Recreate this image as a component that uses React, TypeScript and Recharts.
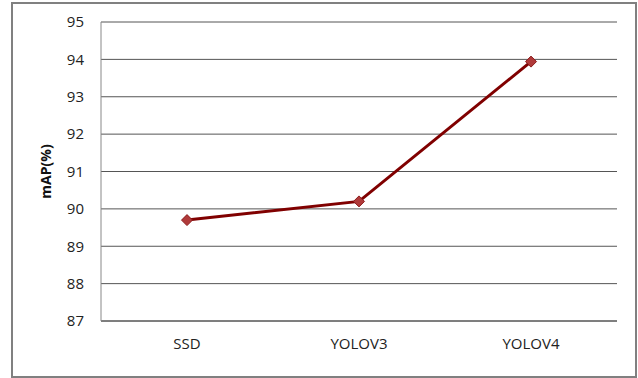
import { LineChart, Line, XAxis, YAxis, CartesianGrid } from 'recharts'

const models = ['SSD', 'YOLOV3', 'YOLOV4']
const mapValues = [89.7, 90.2, 93.94]
const yTicks = [87, 88, 89, 90, 91, 92, 93, 94, 95]

const data = models.map((name, i) => ({ name, map: mapValues[i] }))

const Diamond = (props: any) => {
	const { cx, cy } = props
	if (cx == null || cy == null) return null
	const r = 5.5
	return (
		<path
			d={`M${cx},${cy - r}L${cx + r},${cy}L${cx},${cy + r}L${cx - r},${cy}Z`}
			fill='#b03a3a'
			stroke='#8b1a1a'
			strokeWidth={1}
		/>
	)
}

const App = () => {
	return (
		<div style={{ position: 'absolute', left: 0, top: 0, width: 638, height: 378, background: '#fff' }}>
			<div
				style={{
					position: 'absolute',
					left: 11,
					top: 2,
					width: 622,
					height: 372,
					border: '2px solid #808080',
				}}
			/>
			<div style={{ position: 'absolute', left: 0, top: 0 }}>
				<LineChart
					width={638}
					height={378}
					data={data}
					margin={{ top: 22, right: 21, bottom: 0, left: 0 }}
					style={{ fontFamily: '"Open Sans", sans-serif' }}
				>
					<CartesianGrid horizontal vertical={false} stroke='#555' strokeDasharray='' />
					<XAxis
						dataKey='name'
						height={57}
						padding={{ left: 86, right: 86 }}
						axisLine={{ stroke: '#555' }}
						tickLine={false}
						tickSize={0}
						tickMargin={17}
						tick={{ fill: '#222', fontSize: 15 }}
					/>
					<YAxis
						width={101}
						domain={[87, 95]}
						ticks={yTicks}
						interval={0}
						axisLine={{ stroke: '#888' }}
						tickLine={false}
						tickSize={0}
						tickMargin={17}
						tick={{ fill: '#222', fontSize: 15 }}
						label={{
							value: 'mAP(%)',
							angle: -90,
							position: 'center',
							dx: -4,
							fill: '#111',
							fontSize: 14,
							fontWeight: 'bold',
						}}
					/>
					<Line
						type='linear'
						dataKey='map'
						stroke='#800000'
						strokeWidth={3}
						dot={<Diamond />}
						activeDot={false}
						isAnimationActive={false}
					/>
				</LineChart>
			</div>
		</div>
	)
}

export default App
